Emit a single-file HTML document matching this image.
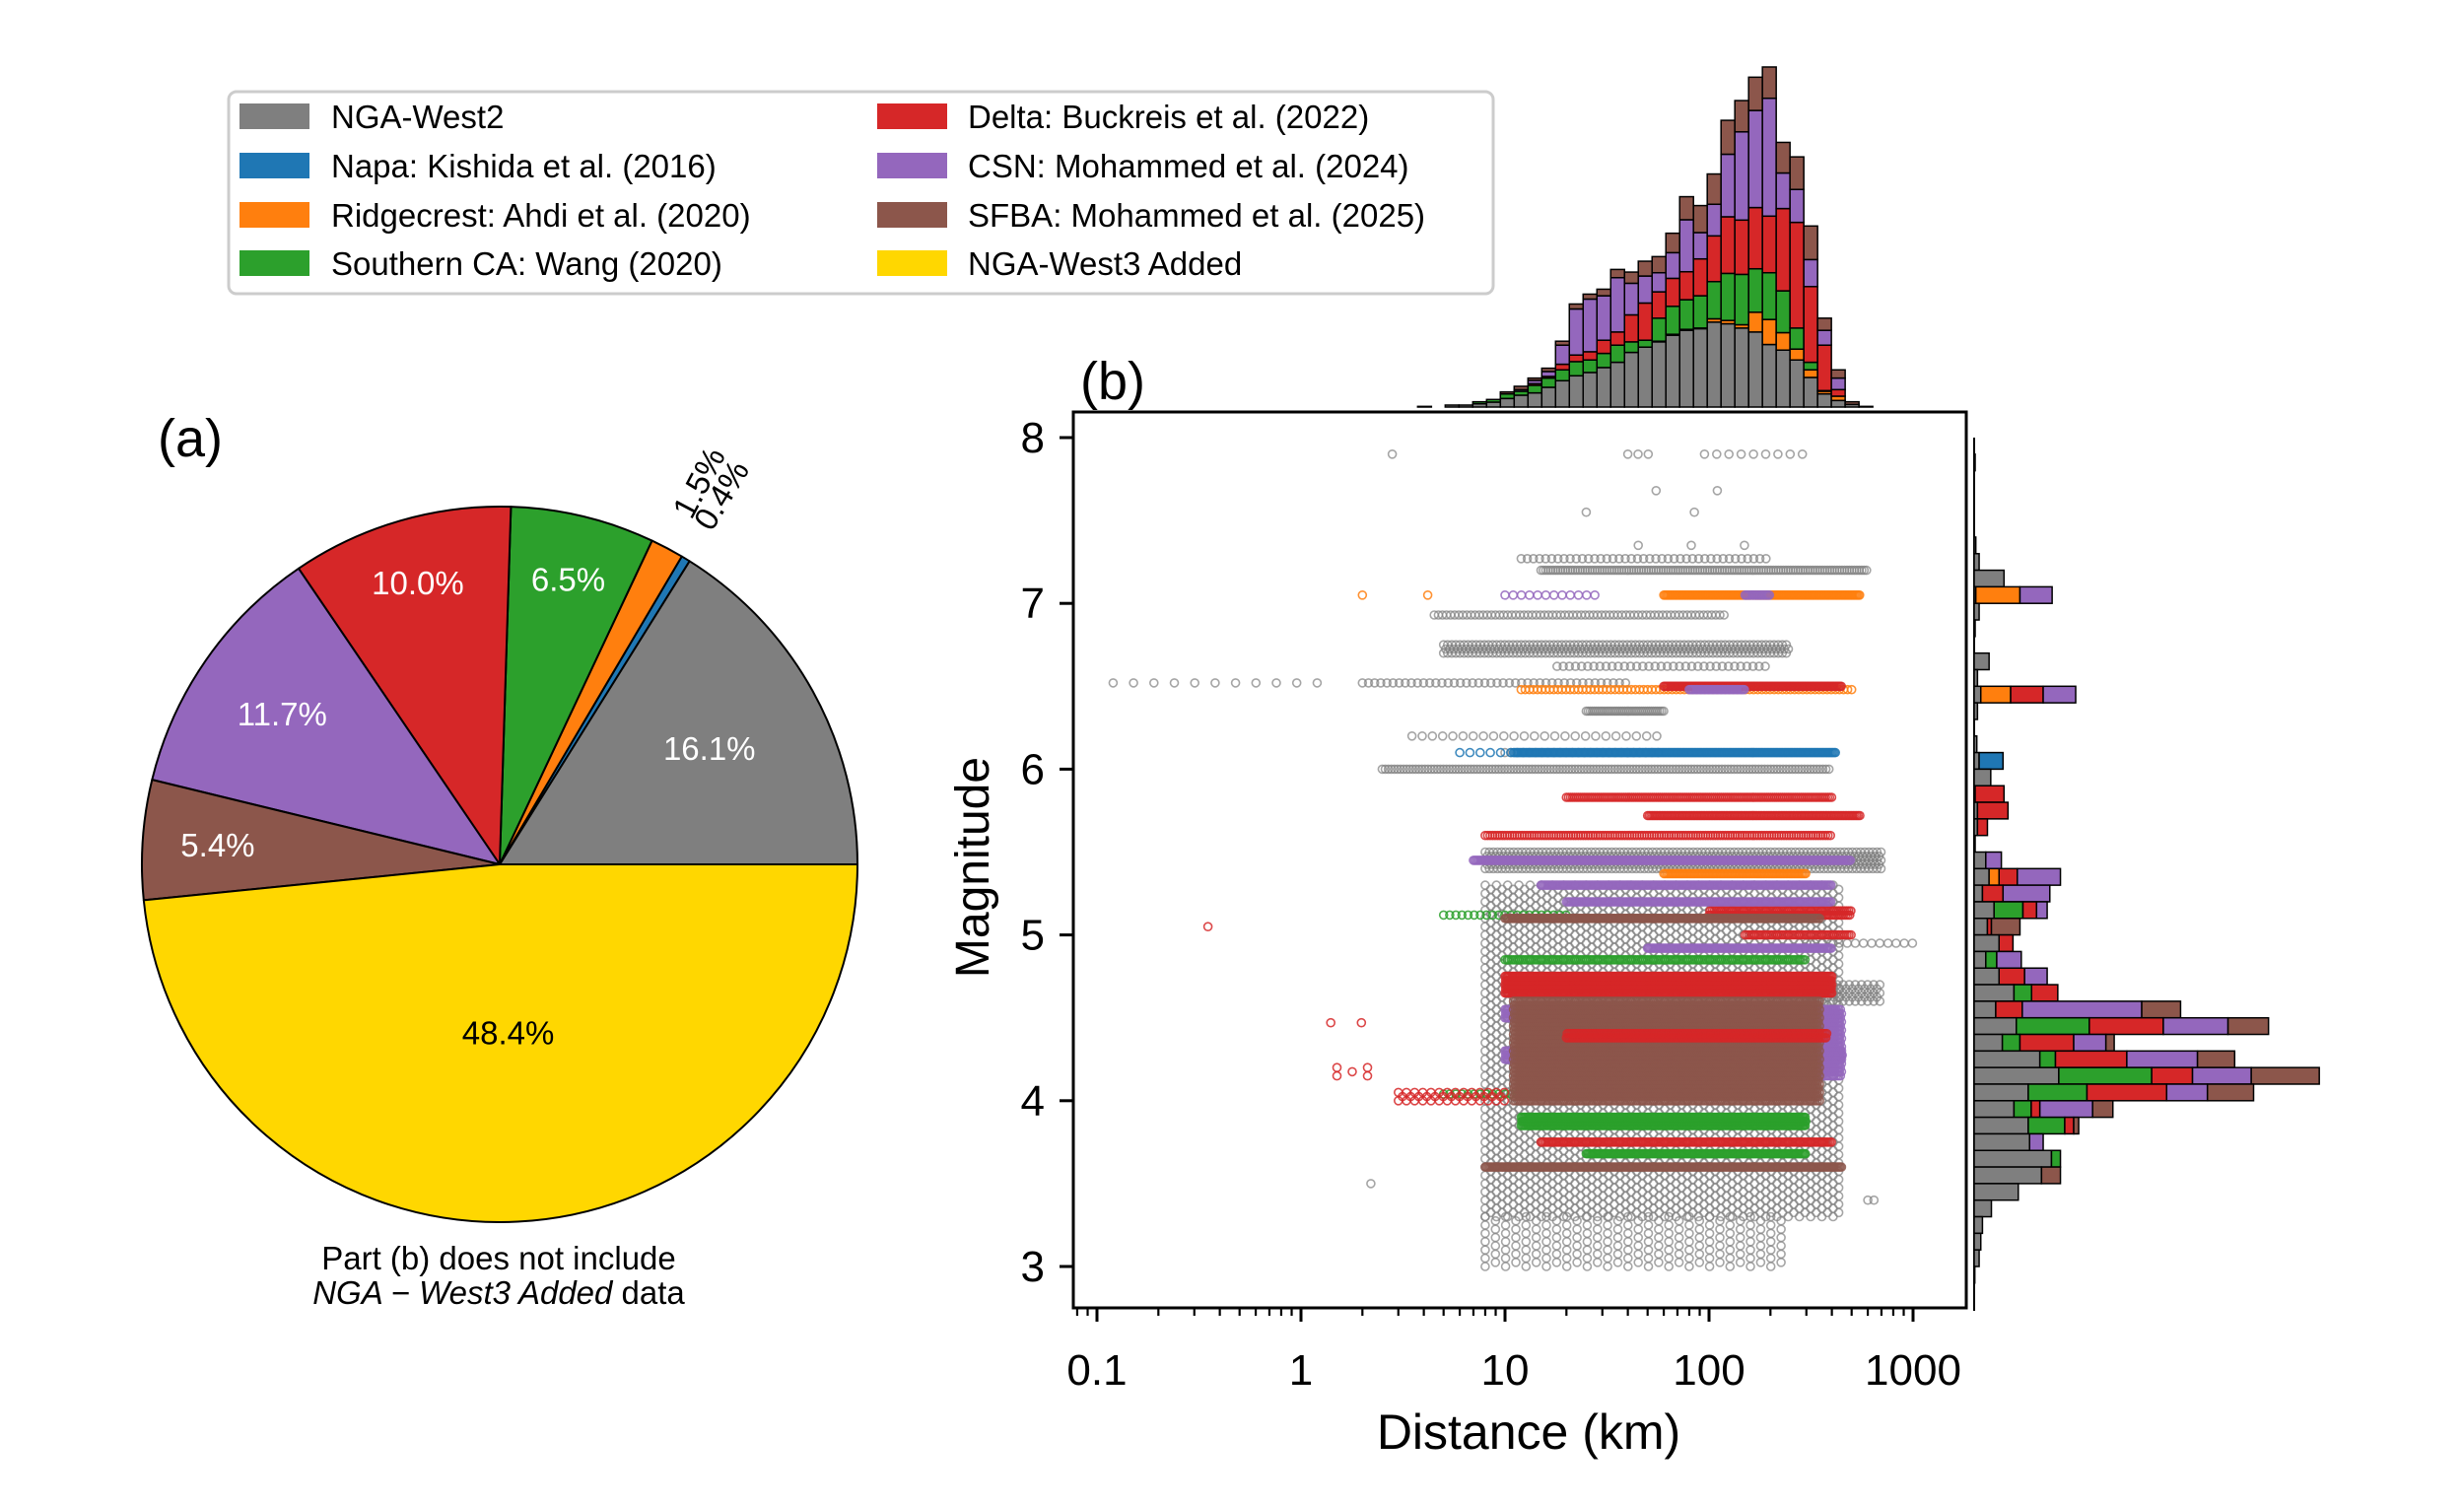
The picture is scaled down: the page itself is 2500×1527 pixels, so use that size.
<!DOCTYPE html>
<html><head><meta charset="utf-8"><style>
body{margin:0;background:#fff}
svg{display:block;font-family:"Liberation Sans","DejaVu Sans",sans-serif}
</style></head><body>
<svg id="fig" width="2500" height="1527" viewBox="0 0 2500 1527" xmlns="http://www.w3.org/2000/svg">
<rect width="2500" height="1527" fill="#fff"/>
<g id="legend">
<rect x="232" y="93" width="1283" height="205" rx="8" fill="#fff" stroke="#cccccc" stroke-width="3"/>
</g>
<g id="pie"></g>
<text x="160" y="463" font-size="54">(a)</text>
<text x="506" y="1288" font-size="33" text-anchor="middle">Part (b) does not include</text>
<text x="506" y="1323" font-size="33" text-anchor="middle"><tspan font-style="italic">NGA − West3 Added</tspan> data</text>
<text x="1096" y="405" font-size="54">(b)</text>
<defs><clipPath id="axclip"><rect x="1089" y="418" width="906" height="909"/></clipPath></defs>
<g id="scatter" clip-path="url(#axclip)"></g>
<g id="tophist"></g>
<g id="righthist"></g>
<rect x="1089" y="418" width="906" height="909" fill="none" stroke="#000" stroke-width="3"/>
<g id="axes"></g>
<text x="1551" y="1470" font-size="50" text-anchor="middle">Distance (km)</text>
<text transform="translate(1003,880) rotate(-90)" font-size="48" text-anchor="middle">Magnitude</text>
</svg>
<script>
const NS="http://www.w3.org/2000/svg";
const seriesNames=["NGA-West2","Napa: Kishida et al. (2016)","Ridgecrest: Ahdi et al. (2020)","Southern CA: Wang (2020)","Delta: Buckreis et al. (2022)","CSN: Mohammed et al. (2024)","SFBA: Mohammed et al. (2025)","NGA-West3 Added"];
const colors=["#7f7f7f","#1f77b4","#ff7f0e","#2ca02c","#d62728","#9467bd","#8c564b","#ffd700"];
const piePct=[16.1,0.4,1.5,6.5,10.0,11.7,5.4,48.4];
const pieLabels=["16.1%","0.4%","1.5%","6.5%","10.0%","11.7%","5.4%","48.4%"];
const pieSlotColors=[0,1,2,3,4,5,6,7];
const distBinStartKm=3.73;
const distBinWidthDex=0.0676;
const distGray=[2,0,6,6,10,15,26,36,43,60,80,95,105,120,136,166,182,198,218,233,238,258,253,240,228,190,173,143,90,40,20,8,2];
const distBlue=[0,0,0,0,0,0,0,0,0,0,0,0,0,0,0,0,0,2,3,3,2,0,0,0,0,0,0,0,0,0,0,0,0];
const distOrange=[0,0,0,0,0,0,0,0,0,0,0,0,0,0,0,0,0,0,0,0,0,10,10,10,60,76,53,33,23,8,13,0,0];
const distGreen=[0,0,0,0,6,8,14,12,23,28,33,43,38,43,52,32,21,70,85,90,98,113,143,153,132,142,127,64,23,2,0,0,0];
const distRed=[0,0,0,0,0,0,0,0,5,5,17,20,25,40,40,82,113,80,85,85,112,139,172,165,186,172,250,321,230,138,20,0,0];
const distPurple=[0,0,0,0,0,0,0,5,10,15,58,140,160,135,165,96,82,58,78,158,80,96,190,268,295,358,108,100,82,45,35,0,0];
const distBrown=[0,0,0,0,0,0,6,10,7,10,12,15,15,20,25,34,45,49,59,70,82,92,103,95,101,95,93,99,102,37,25,8,0];
const magBins=[7.8,7.3,7.2,7.1,7.0,6.9,6.8,6.6,6.5,6.4,6.3,6.1,6.0,5.9,5.8,5.7,5.6,5.5,5.4,5.3,5.2,5.1,5.0,4.9,4.8,4.7,4.6,4.5,4.4,4.3,4.2,4.1,4.0,3.9,3.8,3.7,3.6,3.5,3.4,3.3,3.2,3.1,3.0,2.9];
const magGray=[3,5,15,90,5,15,3,45,10,20,10,8,15,50,3,10,10,3,35,45,25,60,40,75,35,75,120,65,127,85,198,255,163,120,163,167,233,203,133,52,25,20,15,2];
const magBlue=[0,0,0,0,0,0,0,0,0,0,0,0,72,0,0,0,0,0,0,0,0,0,0,0,0,0,0,0,0,0,0,0,0,0,0,0,0,0,0,0,0,0,0,0];
const magOrange=[0,0,0,0,133,0,0,0,0,90,0,0,0,0,0,0,0,0,0,30,0,0,0,0,0,0,0,0,0,0,0,0,0,0,0,0,0,0,0,0,0,0,0,0];
const magGreen=[0,0,0,0,0,0,0,0,0,0,0,0,0,0,0,0,0,0,0,0,0,87,0,0,33,0,53,0,220,53,47,280,177,52,110,0,27,0,0,0,0,0,0,0];
const magRed=[0,0,0,0,0,0,0,0,0,98,0,0,0,0,87,92,30,0,0,55,62,41,12,42,0,77,79,80,223,162,215,123,240,26,27,0,0,0,0,0,0,0,0,0];
const magPurple=[0,0,0,0,97,0,0,0,0,98,0,0,0,0,0,0,0,0,47,130,141,32,0,0,74,68,0,360,195,97,213,177,123,159,0,41,0,0,0,0,0,0,0,0];
const magBrown=[0,0,0,0,0,0,0,0,0,0,0,0,0,0,0,0,0,0,0,0,0,0,86,0,0,0,0,117,122,25,112,205,139,61,15,0,0,57,0,0,0,0,0,0];
const scatterBands=[
[0,7.9,7.9,40,55,0.05],[0,7.9,7.9,95,300,0.06],[0,7.9,7.9,2.8,2.8,1],[0,7.68,7.68,55,110,0.3],[0,7.55,7.55,25,85,0.53],
[0,7.35,7.35,45,150,0.26],[0,7.27,7.27,12,200,0.03],[0,7.2,7.2,15,600,0.012],[0,6.93,6.93,4.5,120,0.02],[0,6.7,6.75,5,250,0.02],
[0,6.62,6.62,18,200,0.03],[0,6.52,6.52,0.12,1.3,0.1],[0,6.52,6.52,2,40,0.03],[0,6.35,6.35,25,60,0.01],[0,6.2,6.2,3.5,60,0.05],
[0,6.1,6.1,10,60,0.03],[0,6.0,6.0,2.5,400,0.015],[0,5.4,5.5,8,700,0.02],[0,3.3,5.3,8,450,0.055],[0,3.0,3.3,8,250,0.1],
[0,4.6,4.7,300,700,0.03],[0,4.95,4.95,300,1000,0.04],[0,3.5,3.5,2.2,2.2,1],[0,3.4,3.4,600,650,0.03],
[1,6.1,6.1,11,420,0.006],[1,6.1,6.1,6,11,0.05],
[2,7.05,7.05,60,550,0.006],[2,7.05,7.05,2,4.2,0.32],[2,6.48,6.48,12,520,0.02],[2,5.37,5.37,60,300,0.008],
[3,5.12,5.12,5,20,0.03],[3,4.85,4.87,10,300,0.01],[3,4.04,4.04,5,15,0.03],[3,3.85,3.9,12,300,0.006],[3,3.68,3.7,25,300,0.006],
[4,6.5,6.5,60,450,0.006],[4,5.83,5.83,20,400,0.01],[4,5.72,5.72,50,550,0.008],[4,5.6,5.6,8,400,0.012],[4,5.12,5.15,100,500,0.01],
[4,5.0,5.0,150,500,0.01],[4,4.65,4.75,10,400,0.006],[4,3.75,3.77,15,400,0.008],[4,4.0,4.05,3,10,0.04],[4,4.47,4.47,1.4,2.7,0.15],
[4,4.15,4.2,1.5,2.2,0.15],[4,5.05,5.05,0.35,0.35,1],
[5,7.05,7.05,10,30,0.04],[5,7.05,7.05,150,200,0.006],[5,6.48,6.48,80,150,0.006],[5,5.45,5.45,7,500,0.006],[5,5.3,5.32,15,400,0.006],
[5,5.2,5.22,20,400,0.006],[5,4.92,4.92,50,400,0.006],[5,4.5,4.55,10,420,0.006],[5,4.25,4.3,10,450,0.006],[5,4.15,4.55,350,450,0.01],
[6,5.1,5.12,10,350,0.006],[6,4.0,4.6,11,350,0.01],[6,3.6,3.6,8,450,0.006],[4,4.38,4.42,20,380,0.008]
];
const xTickVals=[0.1,1,10,100,1000];
const xTickLabels=["0.1","1","10","100","1000"];
const yTickVals=[3,4,5,6,7,8];
const yTickLabels=["3","4","5","6","7","8"];

const xS=d=>1113+(Math.log10(d)+1)*207;
const yS=m=>1285-(m-3)*168.2;
function mk(tag,attrs,parent){const e=document.createElementNS(NS,tag);for(const k in attrs)e.setAttribute(k,attrs[k]);parent.appendChild(e);return e;}

const leg=document.getElementById('legend');
const legRows=[118,168,218,267];
for(let i=0;i<8;i++){
  const col=Math.floor(i/4),row=i%4;
  const px=col?890:243, tx=col?982:336;
  const r=mk('rect',{x:px,y:legRows[row]-13,width:71,height:26,fill:colors[i]},leg);
  
  
  const t=mk('text',{x:tx,y:legRows[row]+12,'font-size':33},leg);
  t.textContent=seriesNames[i];
  
  
}

const pie=document.getElementById('pie');
const cx=507,cy=877,R=363;
const pctDist=[0.67,1.1,1.1,0.82,0.82,0.74,0.79,0.47];
let acc=0;
for(let i=0;i<piePct.length;i++){
  const a0=acc/100*2*Math.PI; acc+=piePct[i]; const a1=acc/100*2*Math.PI;
  const x0=cx+R*Math.cos(a0),y0=cy-R*Math.sin(a0),x1=cx+R*Math.cos(a1),y1=cy-R*Math.sin(a1);
  const large=(a1-a0)>Math.PI?1:0;
  const p=mk('path',{d:`M${cx},${cy} L${x0},${y0} A${R},${R} 0 ${large} 0 ${x1},${y1} Z`,fill:colors[pieSlotColors[i]],stroke:'#000','stroke-width':2,'stroke-linejoin':'round'},pie);
  
  
  const am=(a0+a1)/2, d=pctDist[i]*R;
  const lx=cx+d*Math.cos(am), ly=cy-d*Math.sin(am);
  let t;
  if(pctDist[i]>1){
    const deg=am*180/Math.PI;
    t=mk('text',{x:lx,y:ly,'font-size':33,fill:'#000','dominant-baseline':'middle',transform:`rotate(${-deg},${lx},${ly})`},pie);
  } else {
    t=mk('text',{x:lx,y:ly+12,'font-size':33,'text-anchor':'middle',fill:i===7?'#000':'#fff'},pie);
  }
  t.textContent=pieLabels[i];
  
  
}

const sc=document.getElementById('scatter');
const rowGap=0.025;
for(const b of scatterBands){
  const [s,m0,m1,d0,d1,st]=b;
  const g=mk('g',{fill:'none',stroke:colors[s],'stroke-width':1.6,'stroke-opacity':s===0?0.7:0.85},sc);
  
  
  const l0=Math.log10(d0),l1=Math.log10(d1);
  let k=0;
  for(let m=m0;m<=m1+1e-9;m+=rowGap,k++){
    const off=(k%2)*st/2;
    for(let l=l0+off;l<=l1+1e-9;l+=st){
      mk('circle',{cx:xS(Math.pow(10,l)).toFixed(1),cy:yS(m).toFixed(1),r:4},g);
    }
  }
}

const th=document.getElementById('tophist');
const distStack=[distGray,distBlue,distOrange,distGreen,distRed,distPurple,distBrown];
const topBase=413, topScale=0.334;
for(let i=0;i<distGray.length;i++){
  const lo=Math.log10(distBinStartKm)+i*distBinWidthDex, hi=lo+distBinWidthDex;
  const xa=xS(Math.pow(10,lo)), xb=xS(Math.pow(10,hi));
  let c=0;
  for(let s=0;s<7;s++){
    const v=distStack[s][i]; if(!v) continue;
    const r=mk('rect',{x:xa,y:topBase-(c+v)*topScale,width:xb-xa,height:v*topScale,fill:colors[s],stroke:'#000','stroke-width':1.5},th);
    
    
    c+=v;
  }
}
const rh=document.getElementById('righthist');
const magStack=[magGray,magBlue,magOrange,magGreen,magRed,magPurple,magBrown];
const rBase=2003, rScale=1/2.97;
mk('line',{x1:rBase,y1:444,x2:rBase,y2:1330,stroke:'#000','stroke-width':2},rh);
for(let i=0;i<magBins.length;i++){
  const ya=yS(magBins[i]+0.1), yb=yS(magBins[i]);
  let c=0;
  for(let s=0;s<7;s++){
    const v=magStack[s][i]; if(!v) continue;
    const r=mk('rect',{x:rBase+c*rScale,y:ya,width:v*rScale,height:yb-ya,fill:colors[s],stroke:'#000','stroke-width':1.5},rh);
    
    
    c+=v;
  }
}

const ax=document.getElementById('axes');
for(let dec=-2;dec<=3;dec++){
  for(let k=1;k<10;k++){
    const v=k*Math.pow(10,dec), x=xS(v);
    if(x<1090||x>1994) continue;
    const major=k===1;
    mk('line',{x1:x,y1:1327,x2:x,y2:1327+(major?14:8),stroke:'#000','stroke-width':major?3:2.2},ax);
  }
}
xTickVals.forEach((v,i)=>{
  const t=mk('text',{x:xS(v),y:1405,'font-size':44,'text-anchor':'middle'},ax);
  t.textContent=xTickLabels[i];
  
  
});
yTickVals.forEach((v,i)=>{
  mk('line',{x1:1075,y1:yS(v),x2:1089,y2:yS(v),stroke:'#000','stroke-width':3},ax);
  const t=mk('text',{x:1060,y:yS(v)+15,'font-size':44,'text-anchor':'end'},ax);
  t.textContent=yTickLabels[i];
  
  
});
</script>
</body></html>
